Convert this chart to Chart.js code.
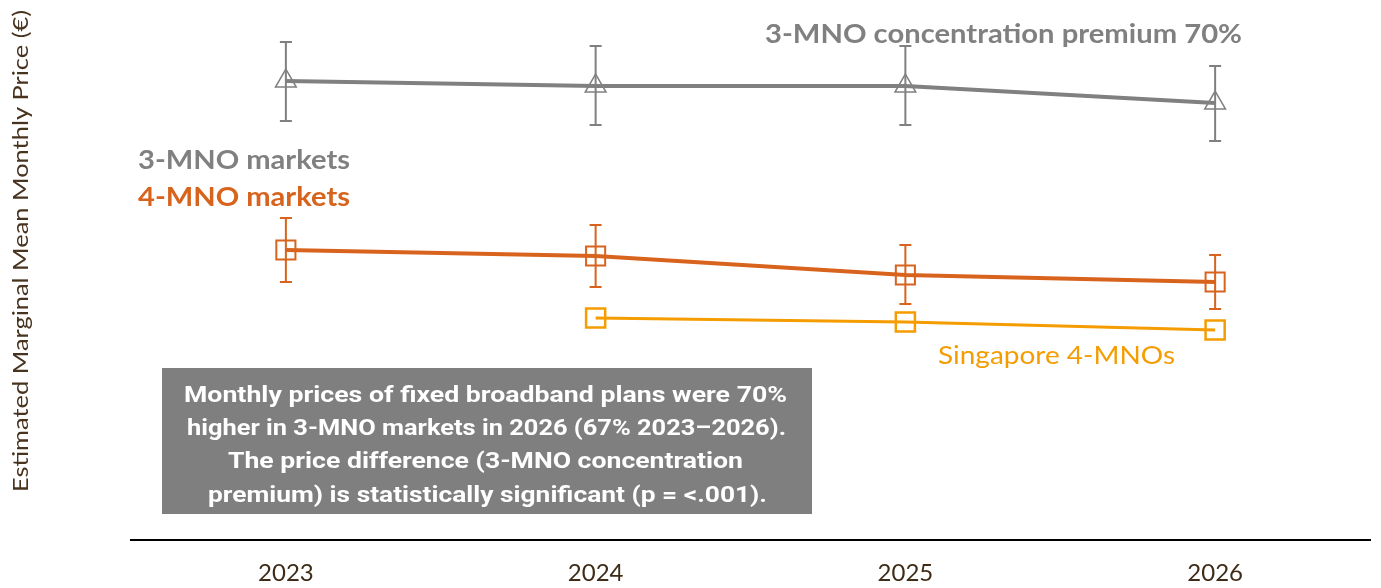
<!DOCTYPE html>
<html><head><meta charset="utf-8">
<script src="https://cdn.jsdelivr.net/npm/chart.js@4"></script>
<style>html,body{margin:0;padding:0;background:#fff;}#wrap{width:1381px;height:588px;}</style>
</head><body><div id="wrap"><canvas id="c" width="1381" height="588"></canvas></div>
<script>
const categories = ['2023','2024','2025','2026'];
const mno3 = [45.9, 45.4, 45.4, 43.7];
const mno3Low = [41.9, 41.5, 41.5, 39.9];
const mno3High = [49.8, 49.4, 49.4, 47.4];
const mno4 = [29.0, 28.4, 26.5, 25.8];
const mno4Low = [25.8, 25.3, 23.6, 23.1];
const mno4High = [32.2, 31.5, 29.5, 28.5];
const singapore = [null, 22.2, 21.8, 21.0];
const yTitle = 'Estimated Marginal Mean Monthly Price (€)';
const premiumLabel = '3-MNO concentration premium 70%';
const label3 = '3-MNO markets';
const label4 = '4-MNO markets';
const labelSg = 'Singapore 4-MNOs';
const boxLines = [
  'Monthly prices of fixed broadband plans were 70%',
  'higher in 3-MNO markets in 2026 (67% 2023–2026).',
  'The price difference (3-MNO concentration',
  'premium) is statistically significant (p = <.001).'
];

const GRAY = '#808080', ORANGE = '#d8631d', SG = '#f59c00', BROWN = '#3f2c18';

function fitText(ctx, text, x, y, targetW, weight, size, family, align) {
  ctx.save();
  ctx.font = weight + ' ' + size + 'px ' + family;
  const w = ctx.measureText(text).width;
  const sx = targetW / w;
  ctx.translate(x, y);
  ctx.scale(sx, 1);
  ctx.textAlign = align || 'left';
  ctx.fillText(text, 0, 0);
  ctx.restore();
}

const errorBars = {
  id: 'errorBars',
  beforeDatasetsDraw(chart) {
    const {ctx, scales: {x, y}} = chart;
    const sets = [[mno3Low, mno3High, GRAY], [mno4Low, mno4High, ORANGE]];
    ctx.save();
    ctx.lineWidth = 2;
    sets.forEach(([lo, hi, col]) => {
      ctx.strokeStyle = col;
      categories.forEach((c, i) => {
        const px = x.getPixelForValue(i);
        const y1 = y.getPixelForValue(lo[i]), y2 = y.getPixelForValue(hi[i]);
        ctx.beginPath();
        ctx.moveTo(px, y1); ctx.lineTo(px, y2);
        ctx.moveTo(px - 6, y1); ctx.lineTo(px + 6, y1);
        ctx.moveTo(px - 6, y2); ctx.lineTo(px + 6, y2);
        ctx.stroke();
      });
    });
    ctx.restore();
  },
  afterDraw(chart) {
    const ctx = chart.ctx;
    ctx.save();
    ctx.textBaseline = 'middle';
    ctx.fillStyle = '#47331e';
    ctx.save();
    ctx.translate(21, 251);
    ctx.rotate(-Math.PI / 2);
    fitText(ctx, yTitle, 0, 0, 482, '400', 22, 'Lato, "Open Sans", sans-serif', 'center');
    ctx.restore();
    ctx.fillStyle = GRAY;
    fitText(ctx, premiumLabel, 765, 35, 477, '700', 26, 'Lato, sans-serif', 'left');
    fitText(ctx, label3, 138, 161, 212, '700', 26, 'Lato, sans-serif', 'left');
    ctx.fillStyle = ORANGE;
    fitText(ctx, label4, 138, 198, 212, '700', 26, 'Lato, sans-serif', 'left');
    ctx.fillStyle = SG;
    fitText(ctx, labelSg, 938, 356, 237, '400', 25, 'Lato, sans-serif', 'left');
    ctx.fillStyle = '#7f7f7f';
    ctx.fillRect(162, 368, 650, 146);
    ctx.fillStyle = '#ffffff';
    const widths = [603, 599, 515, 559];
    const centers = [485.5, 486.5, 485.5, 487.5];
    const ys = [396, 429, 462, 496];
    boxLines.forEach((t, i) => {
      fitText(ctx, t, centers[i], ys[i], widths[i], '700', 22, 'Roboto, sans-serif', 'center');
    });
    ctx.restore();
  }
};

new Chart(document.getElementById('c'), {
  type: 'line',
  data: {
    labels: categories,
    datasets: [
      {label: label3, data: mno3, borderColor: GRAY, borderWidth: 4, pointStyle: 'triangle', pointRadius: 12,
       pointBorderColor: GRAY, pointBackgroundColor: 'rgba(0,0,0,0)', pointBorderWidth: 1.5, tension: 0, clip: false},
      {label: label4, data: mno4, borderColor: ORANGE, borderWidth: 4, pointStyle: 'rect', pointRadius: 13.5,
       pointBorderColor: ORANGE, pointBackgroundColor: 'rgba(0,0,0,0)', pointBorderWidth: 2, tension: 0, clip: false},
      {label: labelSg, data: singapore, borderColor: SG, borderWidth: 3, pointStyle: 'rect', pointRadius: 13.5,
       pointBorderColor: SG, pointBackgroundColor: 'rgba(255,255,255,0)', pointBorderWidth: 2.5, tension: 0, clip: false}
    ]
  },
  options: {
    responsive: false,
    animation: false,
    layout: {autoPadding: false, padding: {left: 131, right: 11, top: 10, bottom: 0}},
    plugins: {legend: {display: false}, tooltip: {enabled: false}},
    scales: {
      x: {
        offset: true,
        grid: {display: false},
        border: {display: true, color: '#000', width: 2},
        ticks: {color: BROWN, font: {size: 24, family: 'Lato, sans-serif'}, padding: 11},
        afterFit(scale) { scale.height = 48; }
      },
      y: {display: false, min: 0, max: 53}
    }
  },
  plugins: [errorBars]
});
</script>
</body></html>
